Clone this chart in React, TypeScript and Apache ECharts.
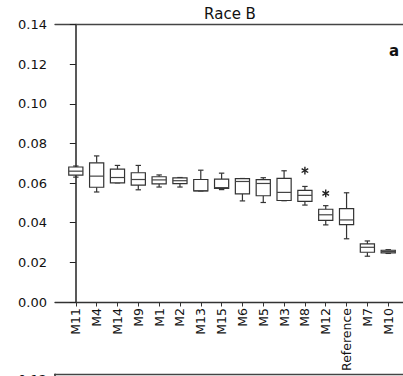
import React, { useEffect, useRef } from "react";
import * as echarts from "echarts";

const categories = ["M11", "M4", "M14", "M9", "M1", "M2", "M13", "M15", "M6", "M5", "M3", "M8", "M12", "Reference", "M7", "M10"];
const whiskerLow = [0.0630, 0.0555, 0.0601, 0.0566, 0.0580, 0.0580, 0.0560, 0.0567, 0.0510, 0.0502, 0.0511, 0.0489, 0.0389, 0.0319, 0.0231, 0.0245];
const quartile1 = [0.0640, 0.0579, 0.0601, 0.0590, 0.0596, 0.0597, 0.0561, 0.0573, 0.0546, 0.0536, 0.0512, 0.0508, 0.0412, 0.0390, 0.0251, 0.0248];
const medians = [0.0660, 0.0635, 0.0628, 0.0618, 0.0616, 0.0612, 0.0561, 0.0577, 0.0608, 0.0598, 0.0553, 0.0538, 0.0440, 0.0414, 0.0276, 0.0255];
const quartile3 = [0.0681, 0.0702, 0.0670, 0.0652, 0.0632, 0.0626, 0.0618, 0.0620, 0.0622, 0.0617, 0.0624, 0.0563, 0.0468, 0.0471, 0.0293, 0.0261];
const whiskerHigh = [0.0686, 0.0737, 0.0689, 0.0689, 0.0641, 0.0628, 0.0665, 0.0650, 0.0623, 0.0627, 0.0662, 0.0583, 0.0486, 0.0551, 0.0308, 0.0264];
const outlierCategories = ["M8", "M12"];
const outlierValues = [0.0663, 0.0548];
const yMin = 0;
const yMax = 0.14;
const yStep = 0.02;
// the next panel below, of which only its top (0.14) edge is visible
const nextPanelMin = 0.12;
const nextPanelMax = 0.14;

const FONT = "DejaVu Sans";
const LINE = "#333";

export default function App() {
  const ref = useRef<HTMLDivElement>(null);
  useEffect(() => {
    if (!ref.current) return;
    const chart = echarts.init(ref.current, null, { renderer: "svg" });

    const boxData = categories.map((c, i) => [i, whiskerLow[i], quartile1[i], medians[i], quartile3[i], whiskerHigh[i]]);
    const outlierData = outlierCategories.map((c, k) => [categories.indexOf(c), outlierValues[k]]);
    const tickIdx = categories.map((c, i) => i);

    const yAxisBase = (gridIndex: number, min: number, max: number) => ({
      type: "value",
      gridIndex,
      min,
      max,
      interval: yStep,
      axisLine: { show: true, lineStyle: { color: "#222", width: 1.5 } },
      axisTick: { show: true, inside: false, length: 6, lineStyle: { color: "#222", width: 1 } },
      axisLabel: {
        margin: 8,
        color: "#111",
        fontFamily: FONT,
        fontSize: 13,
        formatter: (v: number) => v.toFixed(2),
      },
      splitLine: { show: false },
    });

    chart.setOption({
      animation: false,
      title: [
        {
          text: "Race B",
          left: 225,
          top: 1,
          textAlign: "center",
          textStyle: { fontFamily: FONT, fontSize: 15, fontWeight: "normal", color: "#111" },
        },
        {
          text: "a",
          left: 389,
          top: 38,
          textAlign: "center",
          textStyle: { fontFamily: FONT, fontSize: 15, fontWeight: "bold", color: "#111" },
        },
      ],
      grid: [
        { left: 55, right: 0, top: 24.5, height: 277.5 },
        { left: 55, right: 0, top: 374.3, height: 39.6 },
      ],
      xAxis: [
        {
          type: "value",
          gridIndex: 0,
          position: "bottom",
          min: -1,
          max: 15.71,
          interval: 1,
          axisLine: { show: true, onZero: false, lineStyle: { color: "#333", width: 1.3 } },
          axisTick: { show: true, inside: false, length: 4.5, customValues: tickIdx, lineStyle: { color: "#333", width: 1 } },
          axisLabel: {
            rotate: 90,
            margin: 6,
            customValues: tickIdx,
            fontFamily: FONT,
            fontSize: 12.5,
            color: "#111",
            formatter: (v: number) => (v >= 0 && v < categories.length && Number.isInteger(v) ? categories[v] : ""),
          },
          splitLine: { show: false },
        },
        {
          type: "value",
          gridIndex: 0,
          position: "top",
          min: -1,
          max: 15.71,
          axisLine: { show: true, onZero: false, lineStyle: { color: "#444", width: 1.3 } },
          axisTick: { show: false },
          axisLabel: { show: false },
          splitLine: { show: false },
        },
        {
          type: "value",
          gridIndex: 1,
          position: "top",
          min: 0,
          max: 1,
          axisLine: { show: true, onZero: false, lineStyle: { color: "#444", width: 1.3 } },
          axisTick: { show: false },
          axisLabel: { show: false },
          splitLine: { show: false },
        },
      ],
      yAxis: [yAxisBase(0, yMin, yMax), yAxisBase(1, nextPanelMin - yStep, nextPanelMax)],
      series: [
        {
          type: "custom",
          xAxisIndex: 0,
          yAxisIndex: 0,
          data: boxData,
          encode: { x: 0, y: [1, 2, 3, 4, 5] },
          renderItem: (params: any, api: any) => {
            const i = api.value(0);
            const w = api.size([1, 0])[0];
            const bw = w * 0.68;
            const cw = w * 0.26;
            const pLo = api.coord([i, api.value(1)]);
            const pQ1 = api.coord([i, api.value(2)]);
            const pMed = api.coord([i, api.value(3)]);
            const pQ3 = api.coord([i, api.value(4)]);
            const pHi = api.coord([i, api.value(5)]);
            const x = pMed[0];
            const st = { stroke: LINE, lineWidth: 1.2, fill: null };
            return {
              type: "group",
              children: [
                { type: "line", shape: { x1: x, y1: pQ3[1], x2: x, y2: pHi[1] }, style: st },
                { type: "line", shape: { x1: x, y1: pQ1[1], x2: x, y2: pLo[1] }, style: st },
                { type: "line", shape: { x1: x - cw / 2, y1: pHi[1], x2: x + cw / 2, y2: pHi[1] }, style: st },
                { type: "line", shape: { x1: x - cw / 2, y1: pLo[1], x2: x + cw / 2, y2: pLo[1] }, style: st },
                {
                  type: "rect",
                  shape: { x: x - bw / 2, y: pQ3[1], width: bw, height: pQ1[1] - pQ3[1] },
                  style: { stroke: LINE, lineWidth: 1.2, fill: "#fff" },
                },
                { type: "line", shape: { x1: x - bw / 2, y1: pMed[1], x2: x + bw / 2, y2: pMed[1] }, style: { stroke: "#444", lineWidth: 1.2 } },
              ],
            };
          },
        },
        {
          type: "custom",
          xAxisIndex: 0,
          yAxisIndex: 0,
          data: outlierData,
          encode: { x: 0, y: 1 },
          renderItem: (params: any, api: any) => {
            const p = api.coord([api.value(0), api.value(1)]);
            const r = 3.8;
            const st = { stroke: "#222", lineWidth: 1.4 };
            const arms = [90, 30, 150].map((deg) => {
              const a = (deg * Math.PI) / 180;
              return {
                type: "line",
                shape: { x1: p[0] - r * Math.cos(a), y1: p[1] - r * Math.sin(a), x2: p[0] + r * Math.cos(a), y2: p[1] + r * Math.sin(a) },
                style: st,
              };
            });
            return { type: "group", children: arms };
          },
        },
      ],
    });
    return () => chart.dispose();
  }, []);
  return <div ref={ref} style={{ position: "absolute", left: 0, top: 0, width: 403, height: 376, background: "#fff" }} />;
}
